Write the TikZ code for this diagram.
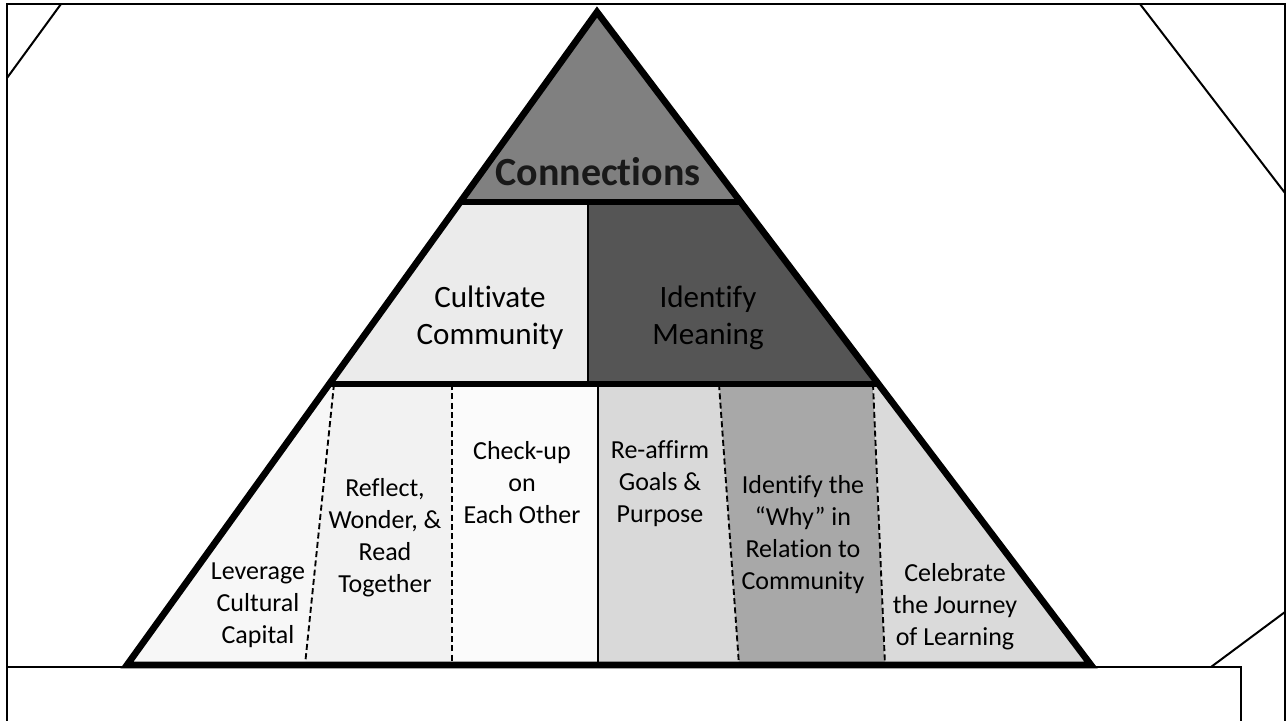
\documentclass[tikz,border=0pt]{standalone}
\usepackage{fontspec}
\setmainfont[Ligatures=NoCommon]{Carlito}
\usetikzlibrary{calc}
\definecolor{topgray}{HTML}{808080}
\definecolor{midlight}{HTML}{EBEBEB}
\definecolor{middark}{HTML}{555555}
\definecolor{lowa}{HTML}{F7F7F7}
\definecolor{lowb}{HTML}{F2F2F2}
\definecolor{lowc}{HTML}{FBFBFB}
\definecolor{lowd}{HTML}{D9D9D9}
\definecolor{lowe}{HTML}{A8A8A8}
\definecolor{lowf}{HTML}{DADADA}
\tikzset{
  frameline/.style={line width=1.5pt, black},
  heavy/.style={line width=5pt, black, line join=miter},
  thinsplit/.style={line width=1.2pt, black},
  solidsplit/.style={line width=2pt, black},
  dashsplit/.style={line width=1.4pt, black, dash pattern=on 4.5pt off 2.5pt},
  toplabel/.style={font=\fontsize{30}{34}\selectfont\bfseries, text=black!90, inner sep=0pt},
  midlabel/.style={font=\fontsize{23.3}{27.8}\selectfont, align=center, inner sep=0pt},
  lowlabel/.style={font=\fontsize{19.5}{24}\selectfont, align=center, inner sep=0pt}
}
\begin{document}
\begin{tikzpicture}[x=0.75pt, y=-0.75pt]
\useasboundingbox (0,0) rectangle (1286,721);
\fill[white] (0,0) rectangle (1286,721);

% page frame and corner cuts
\draw[frameline] (7,721) -- (7,4) -- (1285,4) -- (1285,721);
\draw[frameline] (61,4) -- (7,78);
\draw[frameline] (1140,4) -- (1285,193);
\draw[frameline] (1211,667) -- (1285,612);
\draw[frameline] (7,667) -- (1241,667) -- (1241,721);

% pyramid corners and tier levels
\coordinate (A) at (597,12);
\coordinate (BL) at (127,665);
\coordinate (BR) at (1091,665);
\coordinate (L1) at ($(A)!0.29096!(BL)$);
\coordinate (R1) at ($(A)!0.29096!(BR)$);
\coordinate (L2) at ($(A)!0.56968!(BL)$);
\coordinate (R2) at ($(A)!0.56968!(BR)$);
% middle tier divider
\coordinate (M1) at (588,202);
\coordinate (M2) at (588,384);
% bottom tier dividers
\coordinate (D1t) at (334,384);  \coordinate (D1b) at (305,665);
\coordinate (D2t) at (452,384);  \coordinate (D2b) at (452,665);
\coordinate (St)  at (598,384);  \coordinate (Sb)  at (598,665);
\coordinate (D3t) at (719,384);  \coordinate (D3b) at (739,665);
\coordinate (D4t) at (873,384);  \coordinate (D4b) at (885,665);

% fills
\fill[topgray] (A) -- (L1) -- (R1) -- cycle;
\fill[midlight] (L1) -- (M1) -- (M2) -- (L2) -- cycle;
\fill[middark] (M1) -- (R1) -- (R2) -- (M2) -- cycle;
\fill[lowa] (L2) -- (D1t) -- (D1b) -- (BL) -- cycle;
\fill[lowb] (D1t) -- (D2t) -- (D2b) -- (D1b) -- cycle;
\fill[lowc] (D2t) -- (St) -- (Sb) -- (D2b) -- cycle;
\fill[lowd] (St) -- (D3t) -- (D3b) -- (Sb) -- cycle;
\fill[lowe] (D3t) -- (D4t) -- (D4b) -- (D3b) -- cycle;
\fill[lowf] (D4t) -- (R2) -- (BR) -- (D4b) -- cycle;

% dividers
\draw[thinsplit] (M1) -- (M2);
\draw[solidsplit] (St) -- (Sb);
\draw[dashsplit] (D1t) -- (D1b);
\draw[dashsplit] (D2t) -- (D2b);
\draw[dashsplit] (D3t) -- (D3b);
\draw[dashsplit] (D4t) -- (D4b);

% outline and tier lines
\draw[heavy] (L1) -- (R1);
\draw[heavy] (L2) -- (R2);
\draw[heavy] (A) -- (BL) -- (BR) -- cycle;

% labels
\node[toplabel] (conn) at (598,172) {Connections};
\node[midlabel] (cult) at (490,318) {Cultivate\\Community};
\node[midlabel] (mean) at (708,318) {Identify\\Meaning};
\node[lowlabel] (lev) at (258,605) {Leverage\\Cultural\\Capital};
\node[lowlabel] (refl) at (385,538) {Reflect,\\Wonder, \&\\Read\\Together};
\node[lowlabel] (check) at (522,483) {Check-up\\on\\Each Other};
\node[lowlabel] (reaff) at (660,484) {Re-affirm\\Goals \&\\Purpose};
\node[lowlabel] (why) at (803,535) {Identify the\\“Why” in\\Relation to\\Community};
\node[lowlabel] (celeb) at (955,607) {Celebrate\\the Journey\\of Learning};
\end{tikzpicture}
\end{document}
